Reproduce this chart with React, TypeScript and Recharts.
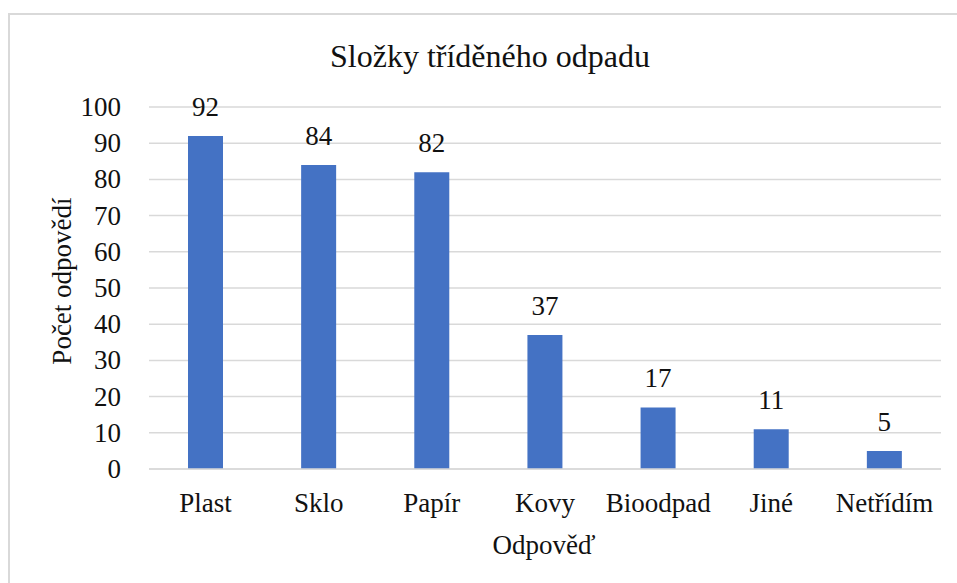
import React from "react";
import { BarChart, Bar, XAxis, YAxis, CartesianGrid, LabelList } from "recharts";

const categories = ["Plast", "Sklo", "Papír", "Kovy", "Bioodpad", "Jiné", "Netřídím"];
const counts = [92, 84, 82, 37, 17, 11, 5];
const yTicks = [0, 10, 20, 30, 40, 50, 60, 70, 80, 90, 100];

const chartTitle = "Složky tříděného odpadu";
const xTitle = "Odpověď";
const yTitle = "Počet odpovědí";

const data = categories.map((name, i) => ({ name, count: counts[i] }));

const FONT = "Liberation Serif";
const TEXT = "#111";
const GRID = "#d9d9d9";
const textStyle = { fontFamily: FONT };

const XTick = (props: any) => {
  const { x, y, payload } = props;
  return (
    <text x={x} y={y + 41} textAnchor="middle" fontSize={27} fill={TEXT} fontFamily={FONT} style={textStyle}>
      {payload.value}
    </text>
  );
};

const YTick = (props: any) => {
  const { x, y, payload } = props;
  return (
    <text x={x - 26} y={y + 9} textAnchor="end" fontSize={27} fill={TEXT} fontFamily={FONT} style={textStyle}>
      {payload.value}
    </text>
  );
};

const ValueLabel = (props: any) => {
  const { x, y, width, value } = props;
  return (
    <text x={x + width / 2} y={y - 20} textAnchor="middle" fontSize={27} fill={TEXT} fontFamily={FONT} style={textStyle}>
      {value}
    </text>
  );
};

export default function App() {
  return (
    <div
      style={{
        position: "absolute",
        left: 0,
        top: 0,
        width: 957,
        height: 583,
        overflow: "hidden",
        background: "#fff",
        fontFamily: FONT,
        color: TEXT,
      }}
    >
      {/* outer chart frame, runs off the right and bottom edges */}
      <div
        style={{
          position: "absolute",
          left: 8,
          top: 13,
          width: 1100,
          height: 800,
          border: `2px solid ${GRID}`,
        }}
      />
      <div style={{ position: "absolute", left: 0, top: 0 }}>
        <BarChart
          width={957}
          height={583}
          data={data}
          margin={{ top: 107, right: 16, bottom: 54, left: 49 }}
          barCategoryGap="0%"
        >
          <CartesianGrid vertical={false} stroke={GRID} strokeWidth={1.5} />
          <XAxis
            dataKey="name"
            height={60}
            tickSize={0}
            axisLine={{ stroke: GRID, strokeWidth: 1.5 }}
            tickLine={false}
            tick={<XTick />}
            interval={0}
          />
          <YAxis
            width={100}
            domain={[0, 100]}
            ticks={yTicks}
            tickSize={0}
            axisLine={false}
            tickLine={false}
            tick={<YTick />}
          />
          <Bar dataKey="count" fill="#4472C4" barSize={35} isAnimationActive={false}>
            <LabelList dataKey="count" content={<ValueLabel />} />
          </Bar>
        </BarChart>
      </div>
      {/* titles as html text */}
      <div
        style={{
          position: "absolute",
          left: 190,
          width: 600,
          top: 38,
          textAlign: "center",
          fontSize: 32,
          lineHeight: "36px",
        }}
      >
        {chartTitle}
      </div>
      <div
        style={{
          position: "absolute",
          left: 394,
          width: 300,
          top: 530,
          textAlign: "center",
          fontSize: 27,
          lineHeight: "31px",
        }}
      >
        {xTitle}
      </div>
      <div
        style={{
          position: "absolute",
          left: 62 - 150,
          width: 300,
          top: 281 - 15,
          textAlign: "center",
          fontSize: 27,
          lineHeight: "31px",
          transform: "rotate(-90deg)",
          transformOrigin: "150px 15px",
        }}
      >
        {yTitle}
      </div>
    </div>
  );
}
